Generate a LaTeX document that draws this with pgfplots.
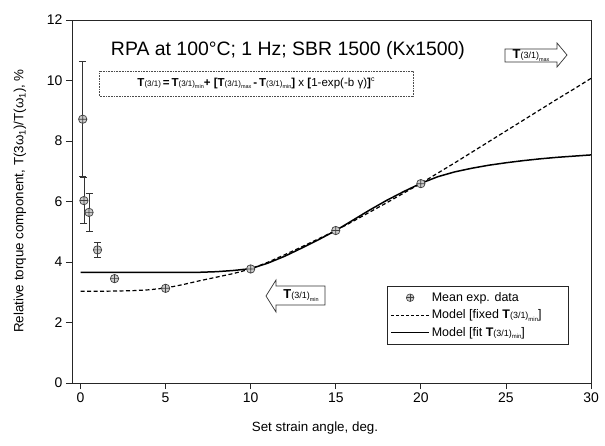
\documentclass[border=0pt]{standalone}
\usepackage{fontspec}
\setmainfont{Liberation Sans}
\usepackage{pgfplots}
\pgfplotsset{compat=1.18}
\usetikzlibrary{plotmarks}

\newcommand{\Tsub}[2][8]{\textbf{T}{\fontsize{#1}{#1}\selectfont(3/1)}\raisebox{-0.35ex}{\fontsize{5.5}{5.5}\selectfont #2}}
\newcommand{\Tleg}[2][8]{\textbf{T}{\mdseries\fontsize{#1}{#1}\selectfont(3/1)}\raisebox{-0.35ex}{\mdseries\fontsize{6}{6}\selectfont #2}}
\newcommand{\LE}[1]{\makebox[132bp][l]{#1}}

\pgfplotstableread{
x y e
0.13 8.72 1.90
0.20 6.03 0.77
0.50 5.64 0.62
1.00 4.40 0.26
2.00 3.45 0
5.00 3.13 0
10.0 3.77 0
15.0 5.04 0
20.0 6.59 0
}\expdata

\pgfplotstableread{
x y
0 3.03
1 3.03
2 3.04
3 3.05
4 3.08
5 3.14
6 3.25
7 3.38
8 3.50
9 3.62
10 3.77
11 3.99
12 4.24
13 4.50
14 4.77
15 5.04
16 5.34
17 5.65
18 5.96
19 6.28
20 6.60
21 6.94
22 7.28
23 7.63
24 7.98
25 8.33
26 8.68
27 9.03
28 9.38
29 9.72
30 10.07
}\fixedmodel

\pgfplotstableread{
x y
0 3.66
1 3.66
2 3.66
3 3.66
4 3.66
5 3.66
6 3.66
7 3.66
8 3.68
9 3.72
10 3.78
11 3.96
12 4.19
13 4.46
14 4.74
15 5.04
16 5.38
17 5.72
18 6.04
19 6.33
20 6.60
21 6.82
22 6.98
23 7.10
24 7.20
25 7.28
26 7.35
27 7.41
28 7.46
29 7.50
30 7.54
}\fitmodel

\begin{document}
\begin{tikzpicture}
\begin{axis}[
  scale only axis, width=519bp, height=363bp,
  at={(0,0)}, anchor=south west,
  xmin=-0.5, xmax=30, ymin=0, ymax=12,
  xtick={0,5,...,30}, ytick={0,2,...,12},
  xtick pos=lower, ytick pos=left,
  tick align=outside, major tick length=6bp,
  ticklabel style={font=\fontsize{14}{14}\selectfont},
  /pgf/number format/assume math mode=true,
  axis line style={black!85, line width=0.8bp},
  tick style={black!85, line width=0.8bp},
  legend cell align=left,
  legend style={at={(0.607,0.267)}, anchor=north west, draw=black!85, line width=0.8bp,
    font=\fontsize{12.5}{13}\selectfont, row sep=3bp,
    inner xsep=3bp, inner ysep=4bp},
]
\addlegendimage{legend image code/.code={\draw[black!75, fill=gray!40, line width=0.6bp] (19bp,0bp) circle (3.8bp); \draw[black!75,line width=0.5bp] (15.5bp,0bp)--(22.5bp,0bp) (19bp,-3.5bp)--(19bp,3.5bp);}}
\addlegendentry{\LE{Mean exp. data}}
\addlegendimage{legend image code/.code={\draw[black, line width=1.1bp, dash pattern=on 3bp off 2bp] (0bp,0bp)--(38bp,0bp);}}
\addlegendentry{\LE{Model [fixed \Tleg[9]{min}]}}
\addlegendimage{legend image code/.code={\draw[black, line width=1.4bp] (0bp,0bp)--(38bp,0bp);}}
\addlegendentry{\LE{Model [fit \Tleg[9]{min}]}}

\addplot[forget plot, black, line width=1.2bp, dash pattern=on 4bp off 2.5bp] table[x=x,y=y]{\fixedmodel};
\addplot[forget plot, black, line width=1.5bp] table[x=x,y=y]{\fitmodel};
\addplot[forget plot, only marks, mark=oplus*, mark size=4.2bp,
  mark options={draw=black!75, fill=gray!40, line width=0.7bp},
  error bars/.cd, y dir=both, y explicit,
  error bar style={black!80, line width=0.8bp},
  error mark options={black!80, line width=0.8bp, mark size=3.5bp, rotate=90}]
  table[x=x, y=y, y error=e]{\expdata};
\end{axis}

% annotations (bp relative to plot area lower-left)
\node at (216bp,333bp) {\fontsize{19.5}{19.5}\selectfont RPA at 100°C; 1 Hz; SBR 1500 (Kx1500)};
\draw[black!70, line width=0.6bp, densely dotted] (27bp,287bp) rectangle (341bp,312bp);
\node at (184bp,299.5bp) {\fontsize{11.6}{11.6}\selectfont \Tsub[8]{}\,\textbf{=}\,\Tsub[8]{min}\textbf{+ [}\Tsub[8]{max}\,\textbf{-}\,\Tsub[8]{min}\textbf{]} x \textbf{[}1-exp(-b γ)\textbf{]}\raisebox{0.8ex}{\fontsize{7}{7}\selectfont c}};
\draw[black!80, line width=0.7bp, fill=white] (433bp,334bp)--(485bp,334bp)--(485bp,340bp)--(495bp,328bp)--(485bp,316bp)--(485bp,321bp)--(433bp,321bp)--cycle;
\node at (459bp,327.5bp) {\fontsize{13}{13}\selectfont\Tsub[9]{max}};
\draw[black!80, line width=0.7bp, fill=white] (253bp,97bp)--(204bp,97bp)--(204bp,103bp)--(194bp,87bp)--(204bp,71bp)--(204bp,78bp)--(253bp,78bp)--cycle;
\node at (229bp,87.5bp) {\fontsize{13}{13}\selectfont\Tsub[9]{min}};
\node at (243bp,-45bp) {\fontsize{13.4}{13.4}\selectfont Set strain angle, deg.};
\node[rotate=90] at (-52bp,182bp) {\fontsize{13.4}{13.4}\selectfont Relative torque component, T(3ω\textsubscript{1})/T(ω\textsubscript{1}), \%};
\pgfresetboundingbox
\path[use as bounding box] (-72bp,-63bp) rectangle (533bp,383bp);
\end{tikzpicture}
\end{document}
